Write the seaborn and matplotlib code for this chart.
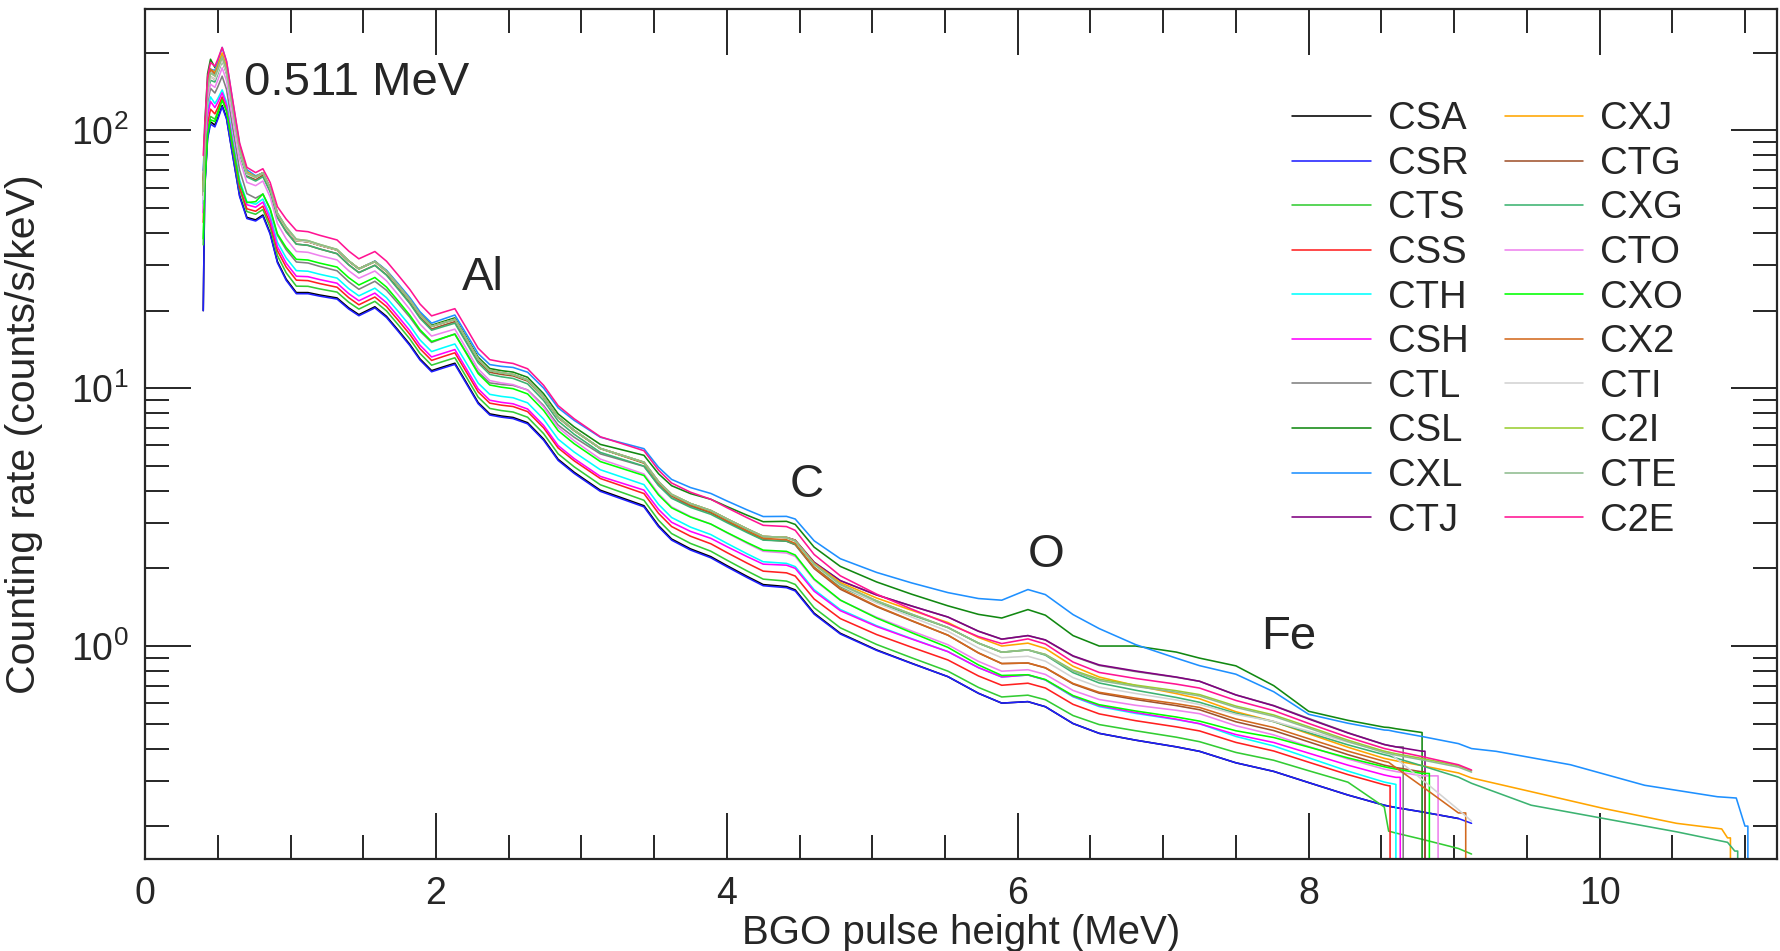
import numpy as np
import pandas as pd
import seaborn as sns
import matplotlib
matplotlib.use('Agg')
import matplotlib.pyplot as plt
from matplotlib.ticker import MultipleLocator, LogLocator, NullFormatter

# bottom spectrum (CSA)
BASE_E = [0.41, 0.43, 0.45, 0.48, 0.50, 0.53, 0.56, 0.60, 0.65, 0.70, 0.76,
          0.81, 0.86, 0.91, 0.97, 1.04, 1.12, 1.20, 1.32, 1.40, 1.47, 1.58, 1.66,
          1.74, 1.82, 1.89, 1.97, 2.05, 2.13, 2.21, 2.29, 2.37, 2.45, 2.53, 2.63,
          2.74, 2.84, 2.95, 3.13, 3.31, 3.43, 3.53, 3.62, 3.75, 3.89, 4.00, 4.14,
          4.25, 4.41, 4.47, 4.60, 4.78, 5.03, 5.27, 5.52, 5.73, 5.89, 6.07, 6.19,
          6.38, 6.56, 6.81, 7.09, 7.25, 7.50, 7.76, 8.00, 8.27, 8.52, 8.55, 8.60,
          8.78, 9.03, 9.12]
BASE_Y = [60.0, 95.0, 108.0, 105.0, 112.0, 125.0, 112.0, 82.0, 56.0, 46.0, 45.0,
          47.0, 40.0, 31.0, 26.5, 23.5, 23.5, 23.0, 22.4, 20.5, 19.3, 20.7, 19.0,
          16.8, 14.8, 13.0, 11.7, 12.1, 12.5, 10.5, 8.8, 7.95, 7.8, 7.7, 7.35,
          6.35, 5.3, 4.72, 4.02, 3.7, 3.5, 2.93, 2.6, 2.38, 2.22, 2.05, 1.86,
          1.73, 1.70, 1.65, 1.34, 1.12, 0.965, 0.857, 0.76, 0.655, 0.60, 0.608, 0.581,
          0.50, 0.458, 0.431, 0.406, 0.39, 0.352, 0.326, 0.295, 0.264, 0.241, 0.239, 0.236,
          0.227, 0.214, 0.205]

# ratio of each detector to the bottom spectrum at these energies
RATIO_E = [0.41, 0.45, 0.53, 0.8, 1.0, 1.5, 3.1, 4.4, 5.5, 6.1, 6.5, 6.9, 7.25, 7.6, 7.95, 8.5, 8.55, 9.1]

NAMES = ['CSA', 'CSR', 'CTS', 'CSS', 'CTH', 'CSH', 'CTL', 'CSL', 'CXL', 'CTJ',
         'CXJ', 'CTG', 'CXG', 'CTO', 'CXO', 'CX2', 'CTI', 'C2I', 'CTE', 'C2E']

COLORS = ['#000000', '#1f1fff', '#33cc33', '#ff2020', '#00ffff', '#ff00ff', '#808080',
          '#118811', '#1e90ff', '#800080', '#ffa500', '#a0522d', '#3cb371', '#ee82ee',
          '#00ff00', '#d2691e', '#d3d3d3', '#9acd32', '#8fbc8f', '#ff1493']

# counting rate where each spectrum starts, at the 0.40 MeV threshold
START_Y = [20.0, 20.0, 36.0, 44.0, 52.0, 48.0, 60.0, 56.0, 70.0, 64.0,
           60.0, 56.0, 58.0, 50.0, 38.0, 58.0, 54.0, 60.0, 58.0, 80.0]

RATIOS = [
    [1.0, 1.0, 1.0, 1.0, 1.0, 1.0, 1.0, 1.0, 1.0, 1.0, 1.0, 1.0, 1.0, 1.0, 1.0, 1.0, 1.0, 1.0],
    [0.98, 0.98, 0.99, 0.99, 0.99, 0.99, 0.99, 0.99, 1.0, 1.0, 1.0, 1.0, 1.0, 1.0, 1.0, 1.0, 1.0, 1.0],
    [1.05, 1.05, 1.06, 1.05, 1.06, 1.05, 1.05, 1.05, 1.05, 1.06, 1.08, 1.09, 1.09, 1.10, 1.11, 1.13, 0.80, 0.76],
    [1.12, 1.12, 1.08, 1.08, 1.12, 1.09, 1.11, 1.13, 1.16, 1.18, 1.19, 1.19, 1.20, 1.20, 1.20, 1.20, 1.20, 1.20],
    [1.25, 1.25, 1.15, 1.15, 1.22, 1.18, 1.20, 1.23, 1.25, 1.27, 1.27, 1.27, 1.28, 1.26, 1.25, 1.23, 1.23, 1.23],
    [1.2, 1.2, 1.12, 1.12, 1.16, 1.13, 1.13, 1.21, 1.25, 1.27, 1.28, 1.28, 1.28, 1.29, 1.30, 1.31, 1.31, 1.31],
    [1.35, 1.35, 1.3, 1.2, 1.32, 1.25, 1.38, 1.55, 1.7, 1.81, 1.83, 1.85, 1.87, 1.82, 1.78, 1.72, 1.72, 1.72],
    [1.75, 1.75, 1.55, 1.45, 1.6, 1.5, 1.5, 1.79, 1.87, 2.3, 2.15, 2.37, 2.3, 2.41, 1.88, 2.0, 2.02, 2.05],
    [1.6, 1.6, 1.68, 1.45, 1.6, 1.5, 1.6, 1.87, 2.1, 2.76, 2.6, 2.28, 2.15, 2.23, 1.83, 1.95, 1.97, 1.95],
    [1.6, 1.6, 1.55, 1.45, 1.6, 1.5, 1.45, 1.55, 1.7, 1.81, 1.84, 1.86, 1.87, 1.82, 1.77, 1.72, 1.72, 1.72],
    [1.6, 1.6, 1.6, 1.45, 1.6, 1.5, 1.45, 1.55, 1.62, 1.69, 1.66, 1.62, 1.6, 1.57, 1.55, 1.52, 1.52, 1.5],
    [1.5, 1.5, 1.5, 1.42, 1.55, 1.45, 1.45, 1.5, 1.45, 1.41, 1.43, 1.44, 1.45, 1.44, 1.44, 1.43, 1.43, 1.43],
    [1.45, 1.45, 1.5, 1.4, 1.55, 1.45, 1.4, 1.5, 1.55, 1.59, 1.57, 1.56, 1.55, 1.56, 1.56, 1.57, 1.57, 1.43],
    [1.4, 1.4, 1.4, 1.35, 1.45, 1.38, 1.32, 1.35, 1.33, 1.33, 1.35, 1.37, 1.4, 1.39, 1.38, 1.38, 1.38, 1.38],
    [1.02, 1.02, 1.05, 1.2, 1.35, 1.3, 1.29, 1.37, 1.3, 1.27, 1.29, 1.3, 1.31, 1.34, 1.37, 1.41, 1.41, 1.41],
    [1.6, 1.6, 1.55, 1.45, 1.6, 1.5, 1.45, 1.52, 1.45, 1.41, 1.44, 1.46, 1.48, 1.48, 1.48, 1.48, 1.48, 1.0],
    [1.5, 1.5, 1.5, 1.45, 1.6, 1.5, 1.45, 1.55, 1.5, 1.5, 1.51, 1.52, 1.52, 1.55, 1.58, 1.62, 1.62, 1.02],
    [1.55, 1.55, 1.55, 1.45, 1.62, 1.5, 1.45, 1.55, 1.55, 1.59, 1.62, 1.64, 1.66, 1.66, 1.65, 1.62, 1.62, 1.6],
    [1.55, 1.55, 1.55, 1.45, 1.62, 1.5, 1.45, 1.55, 1.55, 1.59, 1.6, 1.62, 1.64, 1.64, 1.63, 1.6, 1.6, 1.58],
    [1.7, 1.7, 1.68, 1.5, 1.75, 1.64, 1.61, 1.71, 1.6, 1.76, 1.72, 1.74, 1.76, 1.74, 1.7, 1.66, 1.66, 1.61],
]

# last energy of each spectrum (MeV) and whether it falls off the axis there
END_E = [9.05, 9.12, 9.12, 8.56, 8.60, 8.63, 8.65, 8.78, 11.02, 8.80,
         10.90, 8.80, 10.95, 8.89, 8.83, 9.08, 9.12, 9.12, 9.12, 9.12]
DROP = [False, False, False, True, True, True, True, True, True, True,
        True, True, True, True, True, True, False, False, False, False]

# high-energy tails of the three long spectra
CXL_TAIL_E = [9.29, 9.80, 10.31, 10.81, 10.94, 11.00]
CXL_TAIL_Y = [0.39, 0.346, 0.288, 0.26, 0.257, 0.20]
CXJ_TAIL_E = [9.53, 10.03, 10.53, 10.84, 10.88]
CXJ_TAIL_Y = [0.272, 0.234, 0.205, 0.195, 0.18]
CXG_TAIL_E = [9.53, 10.03, 10.53, 10.88, 10.93]
CXG_TAIL_Y = [0.241, 0.214, 0.19, 0.173, 0.16]
TAILS = {'CXL': (CXL_TAIL_E, CXL_TAIL_Y), 'CXJ': (CXJ_TAIL_E, CXJ_TAIL_Y),
         'CXG': (CXG_TAIL_E, CXG_TAIL_Y)}

LINES = ['0.511 MeV', 'Al', 'C', 'O', 'Fe']
LINE_X = [0.68, 2.18, 4.43, 6.07, 7.67]
LINE_Y = [137.0, 24.0, 3.8, 2.03, 0.975]

base_e = np.array(BASE_E)
base_y = np.array(BASE_Y)
rows = []
for name, ratio, start, end, drop in zip(NAMES, RATIOS, START_Y, END_E, DROP):
    keep = base_e <= min(end, 9.12)
    e = base_e[keep]
    r = 10 ** np.interp(e, RATIO_E, np.log10(ratio))
    e = [0.40] + list(e)
    y = [start] + list(base_y[keep] * r)
    if name in TAILS:
        e += TAILS[name][0]
        y += TAILS[name][1]
    if drop:
        e += [end, end]
        y += [y[-1], 0.05]
    for i in range(len(e)):
        rows.append((name, i, e[i], y[i]))
df = pd.DataFrame(rows, columns=['det', 'idx', 'E', 'rate'])

sns.set_style('ticks')
plt.rcParams['font.family'] = ['Liberation Sans', 'DejaVu Sans']
plt.rcParams['mathtext.fontset'] = 'custom'
plt.rcParams['mathtext.rm'] = 'Liberation Sans'

fig = plt.figure(figsize=(17.8, 9.51), dpi=100)
ax = fig.add_axes([0.0815, 0.0967, 0.9168, 0.8938])

g = sns.lineplot(data=df, x='E', y='rate', hue='det', hue_order=NAMES,
                 palette=dict(zip(NAMES, COLORS)), estimator=None, sort=False,
                 units='det', lw=1.15, ax=ax)

ax.set_yscale('log')
ax.set_xlim(0, 11.22)
ax.set_ylim(0.149, 296)
ax.xaxis.set_major_locator(MultipleLocator(2))
ax.xaxis.set_minor_locator(MultipleLocator(0.5))
ax.yaxis.set_major_locator(LogLocator(base=10))
ax.yaxis.set_minor_locator(LogLocator(base=10, subs=np.arange(2, 10)))
ax.yaxis.set_minor_formatter(NullFormatter())
ax.tick_params(which='both', direction='in', top=True, right=True, width=1.4,
               labelsize=27, pad=12)
ax.tick_params(which='major', length=33)
ax.tick_params(which='minor', length=17)
for s in ax.spines.values():
    s.set_linewidth(1.6)

ax.set_xlabel('BGO pulse height (MeV)', fontsize=29, labelpad=2)
ax.set_ylabel('Counting rate (counts/s/keV)', fontsize=29.5)
ax.yaxis.set_label_coords(-0.0625, 0.5)

for t, x, y in zip(LINES, LINE_X, LINE_Y):
    ax.text(x, y, t, fontsize=34, ha='left', va='baseline')

handles, labels = g.get_legend_handles_labels()
leg = ax.legend(handles, labels, ncol=2, frameon=False, fontsize=27.5, loc='upper left',
                bbox_to_anchor=(0.726, 0.8935), bbox_transform=fig.transFigure,
                borderpad=0, borderaxespad=0, handlelength=2.05, handletextpad=0.45,
                columnspacing=0.95, labelspacing=0.225)
for h in leg.get_lines():
    h.set_linewidth(1.15)

fig.savefig('out.png', dpi=100)
